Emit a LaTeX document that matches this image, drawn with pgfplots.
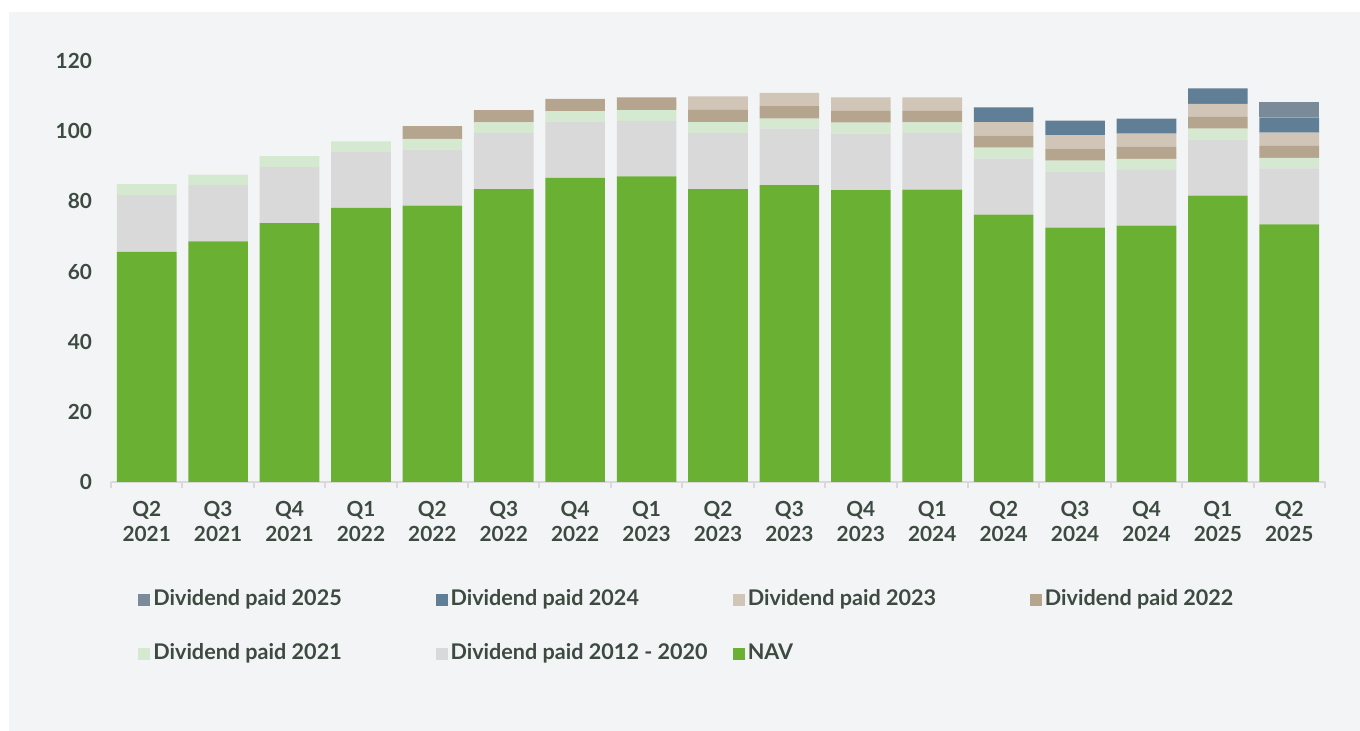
\documentclass[border=0pt]{standalone}
\usepackage{pgfplots}
\pgfplotsset{compat=1.18}
\usepackage{pgfplotstable}
\usepackage{fontspec}
\setmainfont{Lato}
\definecolor{panel}{HTML}{F3F4F6}
\definecolor{txt}{HTML}{3C4A40}
\definecolor{cNAV}{HTML}{6AB033}
\definecolor{cA}{HTML}{D9D9D9}
\definecolor{cB}{HTML}{D5E8D0}
\definecolor{cC}{HTML}{B5A58F}
\definecolor{cD}{HTML}{D0C5B6}
\definecolor{cE}{HTML}{607F96}
\definecolor{cF}{HTML}{7A8A98}
\definecolor{axg}{HTML}{D9D9D9}
\newcommand{\lb}[1]{\makebox[139.6pt][l]{#1}}
\pgfplotstableread{
x NAV D1220 D21 D22 D23 D24 D25
0 65.6 16.2 3.1 0 0 0 0
1 68.6 16.1 2.9 0 0 0 0
2 73.8 16.0 3.1 0 0 0 0
3 78.1 16.1 2.9 0 0 0 0
4 78.8 15.9 3.1 3.6 0 0 0
5 83.5 16.0 3.0 3.5 0 0 0
6 86.7 16.0 3.0 3.5 0 0 0
7 87.1 15.8 3.1 3.6 0 0 0
8 83.5 16.0 3.1 3.5 3.8 0 0
9 84.6 16.1 2.9 3.5 3.8 0 0
10 83.2 16.1 3.1 3.4 3.8 0 0
11 83.3 16.2 3.0 3.3 3.8 0 0
12 76.2 16.0 3.1 3.4 3.9 4.2 0
13 72.5 16.0 3.1 3.3 4.0 4.1 0
14 73.1 16.0 3.0 3.4 3.8 4.3 0
15 81.6 16.0 3.1 3.4 3.7 4.4 0
16 73.4 16.0 3.0 3.4 3.8 4.3 4.4
}\datatable
\begin{document}
\begin{tikzpicture}[x=1pt,y=1pt]
\fill[white] (0,0) rectangle (680,365.5);
\fill[panel] (4.5,0) rectangle (680,359.5);
\begin{axis}[
  at={(55.5pt,124.5pt)}, anchor=south west,
  scale only axis, width=607pt, height=210.5pt,
  ybar stacked, bar width=0.835,
  xmin=-0.5, xmax=16.5, ymin=0, ymax=120,
  ytick={0,20,...,120},
  xtick={0,...,16},
  xticklabels={{Q2\\2021},{Q3\\2021},{Q4\\2021},{Q1\\2022},{Q2\\2022},{Q3\\2022},{Q4\\2022},{Q1\\2023},{Q2\\2023},{Q3\\2023},{Q4\\2023},{Q1\\2024},{Q2\\2024},{Q3\\2024},{Q4\\2024},{Q1\\2025},{Q2\\2025}},
  minor xtick={-0.5,0.5,...,16.5},
  major tick length=0pt,
  minor tick length=3pt,
  tick align=outside,
  xtick style={draw=none},
  minor x tick style={draw=axg, line width=1pt},
  ytick style={draw=none},
  axis x line*=bottom, axis y line*=left,
  x axis line style={draw=axg, line width=1pt, -},
  y axis line style={draw=none},
  /pgf/number format/assume math mode=true,
  ticklabel style={font=\fontsize{10.4}{12.5}\selectfont\bfseries, text=txt},
  xticklabel style={align=center, yshift=-6pt},
  yticklabel style={xshift=-6pt},
  legend columns=4,
  reverse legend,
  legend style={draw=none, fill=none, inner sep=0pt, column sep=0pt, row sep=14.5pt,
    at={(0.0222,-0.2495)}, anchor=north west,
    font=\fontsize{10.8}{12.5}\selectfont\bfseries, text=txt,
    nodes={inner sep=1.5pt, text height=7.5pt, text depth=2pt}},
  legend image code/.code={\fill[#1] (0pt,-3pt) rectangle (6pt,3pt);},
  every axis plot/.append style={draw=none},
]
\addplot[fill=cNAV] table[x=x,y=NAV]{\datatable};
\addlegendentry{\lb{NAV}}
\addplot[fill=cA] table[x=x,y=D1220]{\datatable};
\addlegendentry{\lb{Dividend paid 2012 - 2020}}
\addplot[fill=cB] table[x=x,y=D21]{\datatable};
\addlegendentry{\lb{Dividend paid 2021}}
\addplot[fill=cC] table[x=x,y=D22]{\datatable};
\addlegendentry{\lb{Dividend paid 2022}}
\addplot[fill=cD] table[x=x,y=D23]{\datatable};
\addlegendentry{\lb{Dividend paid 2023}}
\addplot[fill=cE] table[x=x,y=D24]{\datatable};
\addlegendentry{\lb{Dividend paid 2024}}
\addplot[fill=cF] table[x=x,y=D25]{\datatable};
\addlegendentry{\lb{Dividend paid 2025}}
\end{axis}
\end{tikzpicture}
\end{document}
